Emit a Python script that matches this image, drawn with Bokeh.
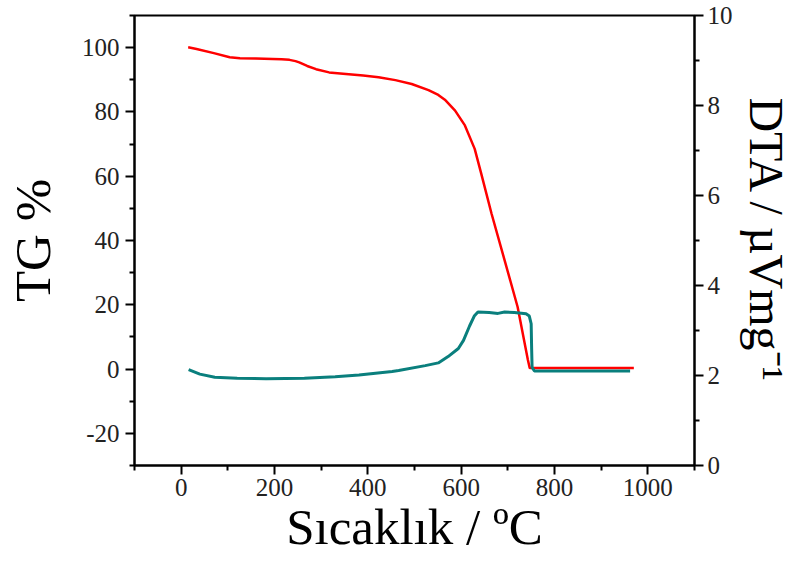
from bokeh.plotting import figure
from bokeh.models import Range1d, LinearAxis, FixedTicker
from bokeh.embed import file_html
from bokeh.resources import INLINE

# TG curve (left axis, %)
tg_temp = [15, 33, 70, 104, 126, 160, 196, 215, 232, 245, 253, 270, 289, 317, 353, 390, 423, 459,
           494, 530, 551, 565, 587, 608, 629, 643, 665, 693, 721, 743, 747, 800, 900, 970]
tg_val = [100.1, 99.6, 98.3, 97.0, 96.7, 96.6, 96.5, 96.4, 96.2, 95.8, 95.4, 94.3, 93.3, 92.3, 91.8,
          91.3, 90.8, 89.9, 88.7, 86.8, 85.3, 83.8, 80.4, 75.8, 68.5, 60.8, 48.4, 33.9, 19.3, 2.8,
          0.3, 0.3, 0.3, 0.3]

# DTA curve (right axis, µV/mg)
dta_temp = [16, 40, 72, 120, 182, 264, 330, 381, 452, 466, 523, 551, 572, 594, 605, 618, 628,
            636, 660, 679, 693, 714, 739, 746, 750, 751, 752, 757, 800, 900, 962]
dta_val = [2.13, 2.03, 1.96, 1.94, 1.93, 1.94, 1.97, 2.01, 2.09, 2.11, 2.22, 2.28, 2.42, 2.60, 2.78,
           3.10, 3.32, 3.41, 3.40, 3.38, 3.41, 3.40, 3.37, 3.32, 3.15, 2.60, 2.18, 2.10, 2.10, 2.10, 2.10]

x_major = [0, 200, 400, 600, 800, 1000]
x_minor = [-100, 100, 300, 500, 700, 900, 1100]
y_major = [-20, 0, 20, 40, 60, 80, 100]
y_minor = [-30, -10, 10, 30, 50, 70, 90, 110]
y2_major = [0, 2, 4, 6, 8, 10]
y2_minor = [1, 3, 5, 7, 9]

FONT = "Liberation Serif"

p = figure(width=795, height=567, output_backend="svg", toolbar_location=None,
           x_range=Range1d(-100, 1100), y_range=Range1d(-30, 110),
           min_border_left=134, min_border_right=98, min_border_top=15, min_border_bottom=102)
p.extra_y_ranges = {"dta": Range1d(0, 10)}
p.grid.visible = False
p.outline_line_color = "black"
p.outline_line_width = 2
p.background_fill_color = "white"
p.border_fill_color = "white"

p.line(tg_temp, tg_val, line_color="#ff0000", line_width=2.5)
p.line(dta_temp, dta_val, line_color="#0a7f7d", line_width=3, y_range_name="dta")

ax2 = LinearAxis(y_range_name="dta")
p.add_layout(ax2, "right")

def style(ax, major, minor, label, label_standoff, tick_standoff, label_size):
    ax.ticker = FixedTicker(ticks=major, minor_ticks=minor)
    ax.major_label_overrides = {m: str(m) for m in major}
    ax.axis_line_width = 2
    ax.axis_line_color = "black"
    ax.major_tick_line_width = 2
    ax.minor_tick_line_width = 2
    ax.major_tick_out = 9
    ax.major_tick_in = 0
    ax.minor_tick_out = 5
    ax.minor_tick_in = 0
    ax.major_label_text_font = FONT
    ax.major_label_text_font_size = "25px"
    ax.major_label_text_font_style = "normal"
    ax.major_label_text_color = "#222222"
    ax.major_label_standoff = tick_standoff
    ax.axis_label = label
    ax.axis_label_text_font = FONT
    ax.axis_label_text_font_size = label_size
    ax.axis_label_text_font_style = "normal"
    ax.axis_label_text_color = "black"
    ax.axis_label_standoff = label_standoff

style(p.xaxis[0], x_major, x_minor, "Sıcaklık / ºC", 0, 4, "51px")
style(p.yaxis[0], y_major, y_minor, "TG %", 18, 6, "51px")
style(ax2, y2_major, y2_minor, "DTA / µVmg⁻¹", 4, 4, "48px")

open("out.html", "w").write(file_html(p, INLINE))
